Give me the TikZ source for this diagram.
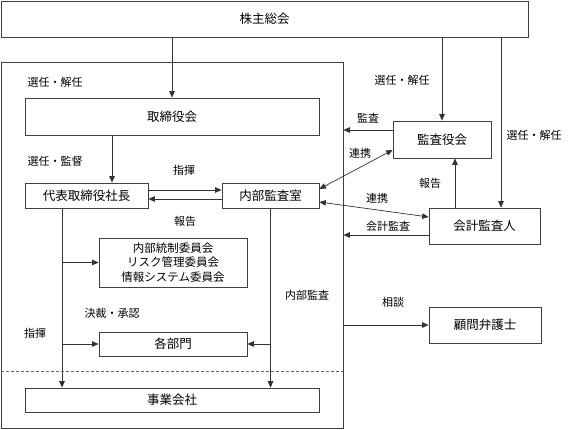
\documentclass[tikz,border=0pt]{standalone}
\usepackage{fontspec}
\setmainfont{Noto Sans CJK JP}
\usetikzlibrary{arrows.meta}
\begin{document}
\begin{tikzpicture}[x=1pt,y=-1pt,
  box/.style={draw=black!75, line width=0.7pt, inner sep=0pt, font=\fontsize{12.5}{14}\selectfont, fill=white},
  lbl/.style={inner sep=0pt, font=\fontsize{11}{13}\selectfont},
  conn/.style={draw=black!80, line width=0.7pt},
  arr/.style={conn, -{Triangle[length=6.5pt,width=5.5pt]}},
  darr/.style={conn, {Triangle[length=6.5pt,width=5.5pt]}-{Triangle[length=6.5pt,width=5.5pt]}}
]
\useasboundingbox (0,0) rectangle (569,430);
% boxes
\node[box, minimum width=342pt, minimum height=366pt, fill=none] (outer) at (172,245) {};
\node[box, minimum width=527pt, minimum height=36pt] (kabu) at (264.5,19) {株主総会};
\node[box, minimum width=294pt, minimum height=37pt] (tor) at (172,116.5) {取締役会};
\node[box, minimum width=123pt, minimum height=25pt] (daihyo) at (86.5,195.5) {代表取締役社長};
\node[box, minimum width=97pt, minimum height=25pt] (naibu) at (270.5,195.5) {内部監査室};
\node[box, minimum width=98pt, minimum height=37pt] (kansa) at (442,139.5) {監査役会};
\node[box, minimum width=111pt, minimum height=36pt] (kaikei) at (484.5,226) {会計監査人};
\node[box, minimum width=112pt, minimum height=36pt] (komon) at (485,325) {顧問弁護士};
\node[box, minimum width=148pt, minimum height=49pt, align=center, font=\fontsize{11.5}{14.5}\selectfont] (iinkai) at (173,262.5) {内部統制委員会\\リスク管理委員会\\情報システム委員会};
\node[box, minimum width=148pt, minimum height=24pt] (kakubu) at (173,344) {各部門};
\node[box, minimum width=294pt, minimum height=24pt] (jigyo) at (172,400) {事業会社};
% helper coordinates
\coordinate (k1) at ([xshift=16.5pt]kaikei.north);
\coordinate (k2) at ([xshift=-29.5pt]kaikei.north);
\coordinate (d1) at ([xshift=25.5pt]daihyo.north);
\coordinate (d2) at ([xshift=-24.5pt]daihyo.south);
\coordinate (dl) at (0,371);
% connectors
\draw[arr] (tor.north |- kabu.south) -- (tor.north);
\draw[arr] (kansa.north |- kabu.south) -- (kansa.north);
\draw[arr] (k1 |- kabu.south) -- (k1);
\draw[arr] (d1 |- tor.south) -- (d1);
\draw[arr] ([yshift=5.5pt]daihyo.east) -- ([yshift=5.5pt]naibu.west);
\draw[arr] ([yshift=-3.5pt]naibu.west) -- ([yshift=-3.5pt]daihyo.east);
\draw[arr] ([yshift=9.5pt]kansa.west) -- ([yshift=9.5pt]kansa.west -| outer.east);
\draw[darr] ([yshift=-10.5pt]kansa.west) -- ([yshift=6.5pt]naibu.east);
\draw[darr] ([yshift=-6.5pt]naibu.east) -- ([yshift=9pt]kaikei.west);
\draw[arr] ([yshift=-9pt]kaikei.west) -- ([yshift=-9pt]kaikei.west -| outer.east);
\draw[arr] (k2) -- (k2 |- kansa.south);
\draw[arr] (komon.west -| outer.east) -- (komon.west);
\draw[arr] (d2) -- (d2 |- jigyo.north);
\draw[arr] (d2 |- iinkai.west) -- (iinkai.west);
\draw[arr] (d2 |- kakubu.west) -- (kakubu.west);
\draw[arr] (naibu.south) -- (naibu.south |- jigyo.north);
\draw[arr] (naibu.south |- kakubu.east) -- (kakubu.east);
\draw[draw=black!60, line width=0.6pt, dash pattern=on 3pt off 2pt] (outer.west |- dl) -- (outer.east |- dl);
% labels
\node[lbl] (l1) at (55,82) {選任・解任};
\node[lbl] (l2) at (55,161) {選任・監督};
\node[lbl] (l3) at (184,170) {指揮};
\node[lbl] (l4) at (185,221) {報告};
\node[lbl] (l5) at (402,80) {選任・解任};
\node[lbl] (l6) at (534,135) {選任・解任};
\node[lbl] (l7) at (368,118) {監査};
\node[lbl] (l8) at (360,153) {連携};
\node[lbl] (l9) at (430,183) {報告};
\node[lbl] (l10) at (377,198) {連携};
\node[lbl] (l11) at (388,226) {会計監査};
\node[lbl] (l12) at (307,295) {内部監査};
\node[lbl] (l13) at (393,302) {相談};
\node[lbl] (l14) at (112,313) {決裁・承認};
\node[lbl] (l15) at (35,333) {指揮};
\end{tikzpicture}
\end{document}
